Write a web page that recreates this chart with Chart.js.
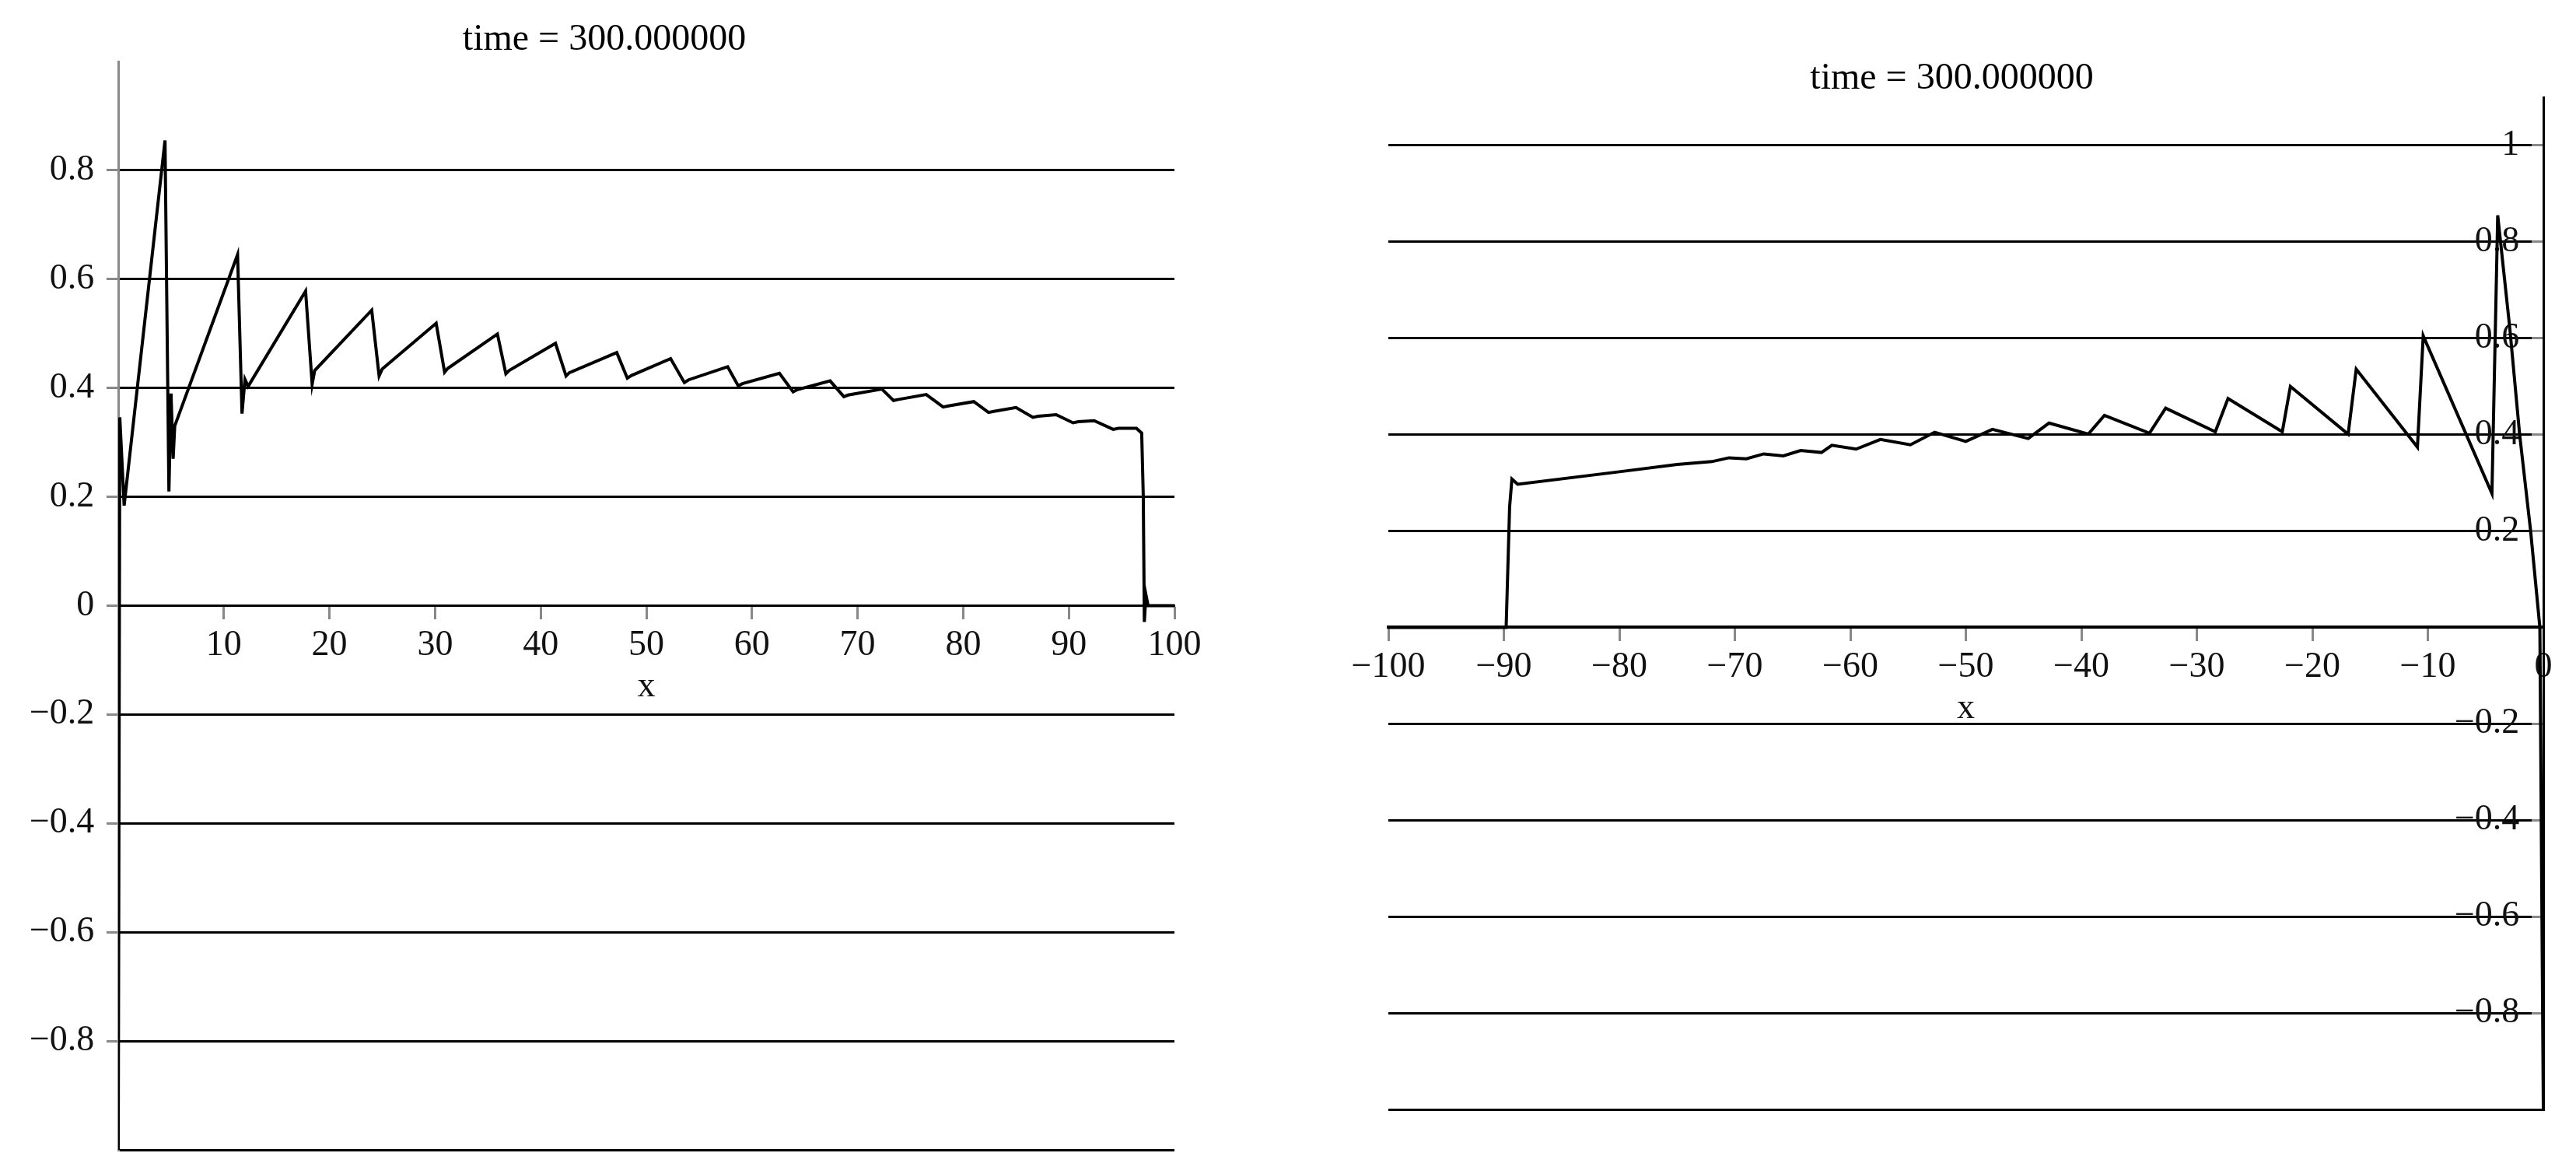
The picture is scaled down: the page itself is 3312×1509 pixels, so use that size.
<!DOCTYPE html>
<html>
<head>
<meta charset="utf-8">
<title>time = 300.000000</title>
<script src="https://cdn.jsdelivr.net/npm/chart.js@4.4.1/dist/chart.umd.min.js"></script>
<style>
html, body { margin: 0; padding: 0; background: #fff; }
#wrap { position: relative; width: 3312px; height: 1509px; }
canvas { position: absolute; top: 0; }
#leftChart { left: 0; }
#rightChart { left: 1640px; }
</style>
</head>
<body>
<div id="wrap">
  <canvas id="leftChart" width="1640" height="1509"></canvas>
  <canvas id="rightChart" width="1672" height="1509"></canvas>
</div>
<script>
// snapshot values
const titleText = 'time = 300.000000';

const leftX = [0, 0.15, 0.56, 4.43, 4.8, 5.0, 5.2, 5.35, 11.3, 11.72, 12.0, 12.3, 17.74, 18.36, 18.6,
    24.0, 24.7, 25.0, 30.1, 30.9, 31.2, 35.9, 36.7, 37.0, 41.4, 42.4, 42.7, 47.2, 48.2, 48.6,
    52.3, 53.6, 54.0, 57.7, 58.7, 59.1, 62.6, 63.9, 64.3, 67.4, 68.7, 69.1, 72.3, 73.4, 73.9,
    76.5, 78.1, 78.6, 81.0, 82.4, 82.9, 85.0, 86.6, 87.1, 88.8, 90.4, 90.9, 92.4, 94.2, 94.7,
    96.4, 96.9, 97.05, 97.15, 97.3, 97.5, 97.8, 100];
const leftU = [-1, 0.346, 0.184, 0.855, 0.21, 0.39, 0.27, 0.33, 0.645, 0.353, 0.416, 0.403, 0.578, 0.407, 0.432,
    0.543, 0.422, 0.435, 0.519, 0.429, 0.436, 0.499, 0.426, 0.432, 0.482, 0.422, 0.428, 0.465, 0.418, 0.423,
    0.454, 0.41, 0.415, 0.439, 0.404, 0.408, 0.427, 0.393, 0.397, 0.413, 0.384, 0.387, 0.398, 0.377, 0.379,
    0.388, 0.365, 0.367, 0.375, 0.355, 0.357, 0.364, 0.346, 0.348, 0.351, 0.336, 0.338, 0.34, 0.324, 0.326,
    0.326, 0.317, 0.2, -0.03, 0.02, 0, 0, 0];

const rightX = [-100, -89.8, -89.5, -89.3, -88.8, -80, -75, -72, -70.5, -69, -67.5, -65.8, -64.3, -62.5, -61.6,
    -59.5, -57.4, -54.8, -52.7, -50.0, -47.7, -44.6, -42.8, -39.4, -38.0, -34.1, -32.7, -28.4, -27.3,
    -22.6, -21.9, -16.9, -16.2, -10.9, -10.4, -4.45, -3.95, -2.9, -2.05, -1.1, -0.3, 0];
const rightU = [0, 0, 0.25, 0.308, 0.297, 0.323, 0.338, 0.344, 0.352, 0.35, 0.36, 0.356, 0.367, 0.363, 0.378,
    0.37, 0.39, 0.379, 0.405, 0.386, 0.411, 0.392, 0.424, 0.401, 0.44, 0.403, 0.455, 0.406, 0.475,
    0.406, 0.5, 0.401, 0.536, 0.374, 0.605, 0.278, 0.855, 0.62, 0.4, 0.2, 0, -1];

Chart.defaults.font.family = '"Liberation Serif", "Times New Roman", serif';
Chart.defaults.color = '#111';

const toPoints = (xs, ys) => xs.map((x, i) => ({x: x, y: ys[i]}));
const LABEL_GAP = '\u2002\u2006';

function fmtY(v) {
    if (v === 0) return '0';
    const s = Math.abs(v) === 1 ? '1' : Math.abs(v).toFixed(1);
    return (v < 0 ? '\u2212' : '') + s;
}

function makeChart(canvasId, cfg) {
    const ctx = document.getElementById(canvasId).getContext('2d');
    return new Chart(ctx, {
        type: 'line',
        data: {
            datasets: [{
                data: toPoints(cfg.xs, cfg.ys),
                borderColor: '#000',
                borderWidth: 4,
                pointRadius: 0,
                tension: 0,
                fill: false
            }]
        },
        options: {
            responsive: false,
            animation: false,
            devicePixelRatio: 1,
            layout: { padding: cfg.padding },
            scales: {
                x: {
                    type: 'linear',
                    position: { y: 0 },
                    min: cfg.xMin,
                    max: cfg.xMax,
                    ticks: {
                        stepSize: 10,
                        autoSkip: false,
                        maxRotation: 0,
                        padding: 8,
                        font: { size: 46 },
                        callback: cfg.xLabel
                    },
                    grid: {
                        drawOnChartArea: false,
                        tickLength: 16,
                        tickWidth: 3,
                        tickColor: '#888'
                    },
                    border: { color: '#000', width: cfg.xBorderWidth },
                    title: {
                        display: true,
                        text: 'x',
                        font: { size: 46 },
                        padding: { top: -10, bottom: 0 }
                    }
                },
                y: {
                    position: { x: 0 },
                    min: -1,
                    max: cfg.yMax,
                    ticks: {
                        stepSize: 0.2,
                        includeBounds: false,
                        autoSkip: false,
                        font: { size: 46 },
                        callback: v => cfg.yShow(v) ? fmtY(v) + LABEL_GAP : ''
                    },
                    grid: {
                        color: c => cfg.yLine(c.tick.value) ? '#000' : 'rgba(0,0,0,0)',
                        lineWidth: 3,
                        tickLength: 14,
                        tickWidth: 3,
                        tickColor: c => cfg.yShow(c.tick.value) ? '#888' : 'rgba(0,0,0,0)'
                    },
                    border: { color: cfg.yBorder, width: 3 }
                }
            },
            plugins: {
                legend: { display: false },
                tooltip: { enabled: false },
                title: {
                    display: true,
                    text: titleText + cfg.titleTrail,
                    color: '#000',
                    font: { size: 48, weight: 'normal', lineHeight: 1 },
                    padding: cfg.titlePadding
                }
            }
        }
    });
}

// left panel: x from 0 to 100
makeChart('leftChart', {
    xs: leftX, ys: leftU,
    xMin: 0, xMax: 100, yMax: 1,
    padding: { left: 152, right: 130, top: 0, bottom: 31 },
    titlePadding: { top: 27, bottom: 4 },
    titleTrail: '\u2003\u2003\u2005',
    xLabel: v => v === 0 ? '' : String(v),
    xBorderWidth: 3,
    yShow: v => Math.abs(v) < 0.99,
    yLine: v => v < 0.99,
    yBorder: '#888'
});

// right panel: mirrored, x from -100 to 0
makeChart('rightChart', {
    xs: rightX, ys: rightU,
    xMin: -100, xMax: 0, yMax: 1.1,
    padding: { left: 145, right: 42, top: 0, bottom: 83 },
    titlePadding: { top: 77, bottom: 0 },
    titleTrail: '\u2002\u2005',
    xLabel: v => v < 0 ? '\u2212' + (-v) : String(v),
    xBorderWidth: 4,
    yShow: v => v !== 0 && v > -0.99,
    yLine: v => true,
    yBorder: '#000'
});
</script>
</body>
</html>
